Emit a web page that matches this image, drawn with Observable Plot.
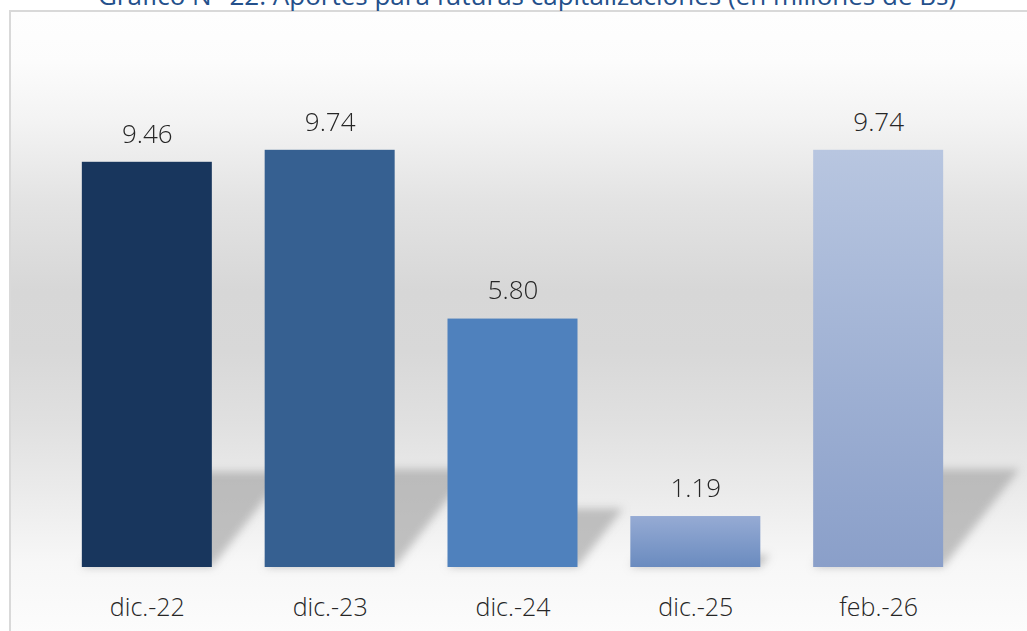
<!DOCTYPE html>
<html>
<head>
<meta charset="utf-8">
<script src="https://cdn.jsdelivr.net/npm/d3@7"></script>
<script src="https://cdn.jsdelivr.net/npm/@observablehq/plot@0.6"></script>
<style>
  html, body { margin: 0; padding: 0; background: #ffffff; }
  #wrap { position: relative; width: 1027px; height: 631px; overflow: hidden; background: #ffffff; }
  #frame {
    position: absolute; left: 9px; top: 10px; width: 1030px; height: 640px;
    border: 2px solid #d9d9d9; box-sizing: border-box;
    background: linear-gradient(to bottom,
      #fefefe 0px, #fcfcfc 50px, #f3f3f3 110px, #e3e3e3 190px, #d7d7d7 280px,
      #d8d8d8 340px, #e0e0e0 410px, #ebebeb 480px, #f7f7f7 550px, #fcfcfc 621px);
  }
  #title {
    position: absolute; left: 0; width: 1054px; top: -20px; text-align: center;
    font-family: "Open Sans", "Noto Sans", sans-serif; font-size: 26px; color: #24508b;
    white-space: nowrap; line-height: 30px; letter-spacing: 0px;
  }
  #chart { position: absolute; left: 0; top: 0; }
  #chart svg { background: transparent !important; }
</style>
</head>
<body>
<div id="wrap">
  <div id="frame"></div>
  <div id="title">Gráfico N° 22: Aportes para futuras capitalizaciones (en millones de Bs)</div>
  <div id="chart"></div>
</div>
<script>
const categories = ["dic.-22", "dic.-23", "dic.-24", "dic.-25", "feb.-26"];
const values = [9.46, 9.74, 5.80, 1.19, 9.74];
const valueLabels = ["9.46", "9.74", "5.80", "1.19", "9.74"];

const data = categories.map((c, i) => ({cat: c, value: values[i], label: valueLabels[i]}));

const barColors = ["#18365d", "#366091", "#4f81bd", "url(#gradDic25)", "url(#gradFeb26)"];

const fontFamily = '"Open Sans", "Noto Sans", sans-serif';

const chart = Plot.plot({
  width: 1027,
  height: 631,
  marginLeft: 29,
  marginRight: 31,
  marginTop: 53,
  marginBottom: 64,
  style: {background: "transparent", fontFamily: fontFamily, overflow: "visible"},
  x: {domain: categories, padding: 0.289, round: false, label: null},
  y: {domain: [0, 12], axis: null},
  color: {type: "ordinal", domain: categories, range: barColors},
  marks: [
    // shadow
    Plot.barY(data, {x: "cat", y: "value", fill: "#9c9c9c", fillOpacity: 0.6, ariaLabel: "shadow"}),
    // bars
    Plot.barY(data, {x: "cat", y: "value", fill: "cat"}),
    Plot.text(data, {x: "cat", y: "value", text: "label", dy: -28, fontSize: 26, fill: "#262626", fontWeight: 300}),
    Plot.axisX({tickSize: 0, tickPadding: 31, fontSize: 25, fill: "#262626", fontWeight: 300, label: null})
  ]
});

document.getElementById("chart").appendChild(chart);

// defs: gradients and blur filter
const svg = d3.select(chart);
const defs = svg.insert("defs", ":first-child");
const g1 = defs.append("linearGradient").attr("id", "gradDic25").attr("x1", 0).attr("y1", 0).attr("x2", 0).attr("y2", 1);
g1.append("stop").attr("offset", "0%").attr("stop-color", "#96abd4");
g1.append("stop").attr("offset", "100%").attr("stop-color", "#6a8bbf");
const g2 = defs.append("linearGradient").attr("id", "gradFeb26").attr("x1", 0).attr("y1", 0).attr("x2", 0).attr("y2", 1);
g2.append("stop").attr("offset", "0%").attr("stop-color", "#b8c6e0");
g2.append("stop").attr("offset", "100%").attr("stop-color", "#8a9fc9");
const f = defs.append("filter").attr("id", "shadowBlur").attr("x", "-30%").attr("y", "-30%").attr("width", "160%").attr("height", "160%");
f.append("feGaussianBlur").attr("stdDeviation", 4);

// perspective-like shadow: squash and skew each shadow rect from its base
const shadowG = svg.selectAll("g[aria-label='shadow'], g[aria-label='bar']").filter((d, i) => i === 0);
shadowG.attr("filter", "url(#shadowBlur)");
shadowG.selectAll("rect").each(function() {
  const r = d3.select(this);
  const y = +r.attr("y"), h = +r.attr("height");
  const b = y + h;
  r.attr("transform", `translate(0,${b}) skewX(-38) scale(1,0.235) translate(0,${-b})`);
});
</script>
</body>
</html>
